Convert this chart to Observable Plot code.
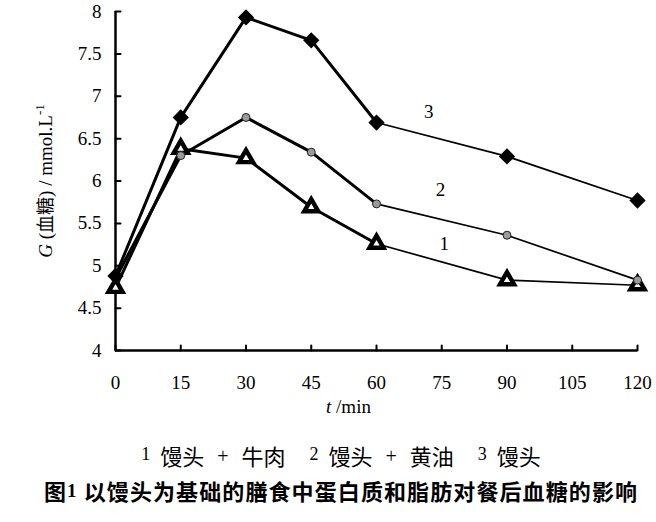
<!DOCTYPE html>
<html><head><meta charset="utf-8">
<script src="https://cdn.jsdelivr.net/npm/d3@7"></script>
<script src="https://cdn.jsdelivr.net/npm/@observablehq/plot@0.6"></script>
<style>
body{margin:0;background:#fff;}
#wrap{position:relative;width:656px;height:522px;overflow:hidden;background:#fff;}
#legend{position:absolute;left:0;top:440px;width:682px;text-align:center;font-family:"Noto Sans CJK SC";font-size:22px;line-height:30px;white-space:nowrap;color:#000;}
#legend .n{font-family:"Liberation Serif";font-size:18px;position:relative;top:-5px;margin-right:10px;}
#legend .p{font-family:"Liberation Serif";font-size:20px;margin:0 13px;position:relative;top:-2px;}
#legend .gap{display:inline-block;width:24px;}
#title{position:absolute;left:0;top:475px;width:682px;text-align:center;font-family:"Noto Sans CJK SC";font-weight:bold;font-size:22px;line-height:30px;letter-spacing:1.1px;white-space:pre;color:#000;}
#title .n{font-family:"Liberation Serif";font-size:19px;position:relative;top:-3px;}
</style>
</head><body>
<div id="wrap">
<div id="chart"></div>
<div id="legend"></div>
<div id="title"></div>
</div>
<script>
const times = [0, 15, 30, 45, 60, 90, 120];
const g1 = [4.74, 6.38, 6.27, 5.69, 5.26, 4.83, 4.77]; // 馒头 + 牛肉
const g2 = [4.85, 6.30, 6.75, 6.34, 5.73, 5.36, 4.83]; // 馒头 + 黄油
const g3 = [4.88, 6.75, 7.93, 7.66, 6.69, 6.29, 5.77]; // 馒头
const seriesIds = ["1", "2", "3"];
const seriesNames = ["馒头 + 牛肉", "馒头 + 黄油", "馒头"];
const xTicks = [0, 15, 30, 45, 60, 75, 90, 105, 120];
const yTicks = [4, 4.5, 5, 5.5, 6, 6.5, 7, 7.5, 8];
const labelT = [75.6, 74.7, 72.0];
const labelG = [5.26, 5.89, 6.81];
const yLabel = "G (血糖) / mmol.L-1";
const xLabel = "t /min";
const titleText = "图1 以馒头为基础的膳食中蛋白质和脂肪对餐后血糖的影响";

const allG = [g1, g2, g3];
const rows = allG.flatMap((arr, k) => times.map((t, i) => ({t, g: arr[i], s: seriesIds[k]})));
const rows1 = rows.filter(d => d.s === "1");
const rows2 = rows.filter(d => d.s === "2");
const rows3 = rows.filter(d => d.s === "3");
const labels = seriesIds.map((s, i) => ({s, t: labelT[i], g: labelG[i]}));

const tickShape = {draw(context, l) { context.moveTo(0, 0); context.lineTo(0, -l); }};

const chart = Plot.plot({
  width: 656, height: 430,
  marginLeft: 115, marginRight: 19, marginTop: 11, marginBottom: 80,
  x: {domain: [0, 120]},
  y: {domain: [4, 8]},
  style: {fontFamily: "Liberation Serif", fontSize: "18px", color: "#000", background: "#fff"},
  marks: [
    Plot.axisY(yTicks, {tickSize: 0, tickPadding: 14, label: null, fontSize: 19, tickFormat: d => String(d)}),
    Plot.axisX(xTicks, {tickSize: 0, tickPadding: 25, label: null, fontSize: 19, tickFormat: d => String(d)}),
    Plot.vector(yTicks, {x: 0, y: d => d, length: 5, rotate: 90, anchor: "start", shape: tickShape, stroke: "black", strokeWidth: 2}),
    Plot.vector(xTicks, {x: d => d, y: 4, length: 5, rotate: 0, anchor: "start", shape: tickShape, stroke: "black", strokeWidth: 2}),
    Plot.ruleX([0], {stroke: "black", strokeWidth: 2.5}),
    Plot.ruleY([4], {stroke: "black", strokeWidth: 2.5}),
    Plot.line(rows.filter(d => d.t <= 60), {x: "t", y: "g", z: "s", stroke: "black", strokeWidth: 3}),
    Plot.line(rows.filter(d => d.t >= 60), {x: "t", y: "g", z: "s", stroke: "black", strokeWidth: 1.7}),
    Plot.dot(rows1, {x: "t", y: "g", symbol: "triangle", r: 5.2, fill: "white", stroke: "black", strokeWidth: 4.4}),
    Plot.dot(rows2, {x: "t", y: "g", symbol: "circle", r: 4, fill: "#9a9a9a", stroke: "#222", strokeWidth: 1}),
    Plot.dot(rows3, {x: "t", y: "g", symbol: "square", rotate: 45, r: 6.5, fill: "black"}),
    Plot.text(labels, {x: "t", y: "g", text: "s", fontSize: 19}),
    Plot.text([yLabel], {frameAnchor: "left", textAnchor: "middle", dx: -70, rotate: -90, text: d => d, fontSize: 19}),
    Plot.text([xLabel], {frameAnchor: "bottom", dy: 62, dx: -28, text: d => d, fontSize: 19})
  ]
});
document.getElementById("chart").appendChild(chart);

// rich text styling (italic variable symbols, superscript)
const svg = d3.select(chart);
const yl = svg.selectAll("text").filter(function() { return this.textContent === yLabel; });
yl.text(null);
yl.append("tspan").attr("font-style", "italic").text("G");
yl.append("tspan").text(" (");
yl.append("tspan").attr("font-family", "Noto Sans CJK SC").attr("font-size", 18).text("血糖");
yl.append("tspan").text(") / mmol.L");
yl.append("tspan").attr("font-size", 13).attr("dy", "-0.6em").text("-1");
const xl = svg.selectAll("text").filter(function() { return this.textContent === xLabel; });
xl.text(null);
xl.append("tspan").attr("font-style", "italic").text("t");
xl.append("tspan").text(" /min");

// legend
const leg = d3.select("#legend");
seriesIds.forEach((s, i) => {
  leg.append("span").attr("class", "n").text(s);
  const parts = seriesNames[i].split(" + ");
  leg.append("span").text(parts[0]);
  if (parts.length > 1) {
    leg.append("span").attr("class", "p").text("+");
    leg.append("span").text(parts[1]);
  }
  if (i < seriesIds.length - 1) leg.append("span").attr("class", "gap");
});
// title
const tt = d3.select("#title");
tt.append("span").text(titleText.slice(0, 1));
tt.append("span").attr("class", "n").text(titleText.slice(1, 2));
tt.append("span").text(titleText.slice(2));
</script>
</body></html>
